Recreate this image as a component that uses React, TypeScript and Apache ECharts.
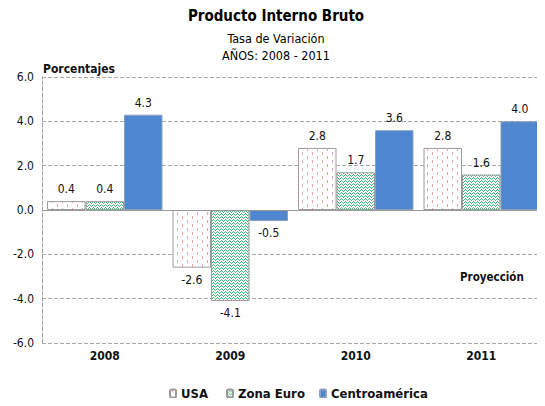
import React, { useEffect, useRef } from "react";
import * as echarts from "echarts";

const categories = ["2008", "2009", "2010", "2011"];
const usa = [0.4, -2.6, 2.8, 2.8];
const zonaEuro = [0.4, -4.1, 1.7, 1.6];
const centroamerica = [4.3, -0.5, 3.6, 4.0];
const seriesNames = ["USA", "Zona Euro", "Centroamérica"];

const FONT = "'DejaVu Sans Condensed', 'DejaVu Sans', sans-serif";

function makeUsaPattern(): HTMLCanvasElement {
  const c = document.createElement("canvas");
  c.width = 10;
  c.height = 8;
  const ctx = c.getContext("2d")!;
  ctx.fillStyle = "#ffffff";
  ctx.fillRect(0, 0, 10, 8);
  ctx.fillStyle = "#f7a0a0";
  ctx.fillRect(2, 0, 1, 3);
  ctx.fillRect(7, 4, 1, 3);
  return c;
}

function makeEuroPattern(): HTMLCanvasElement {
  const c = document.createElement("canvas");
  c.width = 4;
  c.height = 3;
  const ctx = c.getContext("2d")!;
  ctx.fillStyle = "#ffffff";
  ctx.fillRect(0, 0, 4, 3);
  ctx.fillStyle = "#3fbf77";
  ctx.fillRect(0, 1, 1, 1);
  ctx.fillRect(1, 0, 1, 1);
  ctx.fillRect(2, 1, 1, 1);
  ctx.fillRect(3, 2, 1, 1);
  return c;
}

export default function App() {
  const ref = useRef<HTMLDivElement>(null);
  useEffect(() => {
    if (!ref.current) return;
    const chart = echarts.init(ref.current, null, { renderer: "svg" });
    const usaPat = makeUsaPattern();
    const euroPat = makeEuroPattern();
    const labelStyle = {
      show: true,
      fontFamily: FONT,
      fontSize: 12,
      color: "#111",
      distance: 6,
      formatter: (p: any) => Number(p.value).toFixed(1),
    };
    const mkData = (arr: number[]) =>
      arr.map((v) => ({ value: v, label: { position: v < 0 ? "bottom" : "top" } }));
    const border = { borderColor: "#9a9a9a", borderWidth: 1 };
    const legendText = {
      fontFamily: FONT,
      fontSize: 13,
      fontWeight: "bold",
      color: "#111",
    };
    const legendAt = (name: string, left: number) => ({
      top: 387,
      left,
      padding: 0,
      itemWidth: 6,
      itemHeight: 8,
      textStyle: legendText,
      data: [name],
    });
    chart.setOption({
      animation: false,
      grid: { left: 42, right: 1, top: 77, bottom: 63 },
      legend: [
        legendAt(seriesNames[0], 169),
        legendAt(seriesNames[1], 226),
        legendAt(seriesNames[2], 319),
      ],
      xAxis: {
        type: "category",
        data: categories,
        axisLine: { show: false },
        axisTick: { show: false },
        axisLabel: { fontFamily: FONT, fontSize: 12, fontWeight: "bold", color: "#111", margin: 7 },
      },
      yAxis: {
        type: "value",
        min: -6,
        max: 6,
        interval: 2,
        axisLine: { show: true, lineStyle: { color: "#a0a0a0", type: "dashed" } },
        axisTick: { show: false },
        axisLabel: {
          fontFamily: FONT,
          fontSize: 12,
          color: "#111",
          margin: 8,
          formatter: (v: number) => v.toFixed(1),
        },
        splitLine: { show: true, lineStyle: { color: "#a8a8a8", type: "dashed" } },
      },
      graphic: [
        {
          type: "text",
          style: {
            text: "Producto Interno Bruto",
            x: 276,
            y: 16,
            textAlign: "center",
            textVerticalAlign: "middle",
            font: `bold 15px ${FONT}`,
            fill: "#000",
          },
        },
        {
          type: "text",
          style: {
            text: "Tasa de Variación",
            x: 276,
            y: 38,
            textAlign: "center",
            textVerticalAlign: "middle",
            font: `12.5px ${FONT}`,
            fill: "#000",
          },
        },
        {
          type: "text",
          style: {
            text: "AÑOS: 2008 - 2011",
            x: 276,
            y: 55,
            textAlign: "center",
            textVerticalAlign: "middle",
            font: `12.5px ${FONT}`,
            fill: "#000",
          },
        },
        {
          type: "text",
          style: {
            text: "Porcentajes",
            x: 43,
            y: 69,
            textVerticalAlign: "middle",
            font: `bold 12px ${FONT}`,
            fill: "#111",
          },
        },
        {
          type: "text",
          style: {
            text: "Proyección",
            x: 460,
            y: 277,
            textVerticalAlign: "middle",
            font: `bold 11.5px ${FONT}`,
            fill: "#111",
          },
        },
      ],
      series: [
        {
          name: seriesNames[0],
          type: "bar",
          barGap: "0%",
          barCategoryGap: "8%",
          data: mkData(usa),
          itemStyle: {
            color: { image: usaPat, repeat: "repeat", imageWidth: 10, imageHeight: 8 },
            ...border,
          },
          label: labelStyle,
          markLine: {
            silent: true,
            symbol: "none",
            label: { show: false },
            lineStyle: { color: "#9a9a9a", type: "solid", width: 1 },
            data: [{ yAxis: 0 }],
          },
        },
        {
          name: seriesNames[1],
          type: "bar",
          barGap: "0%",
          barCategoryGap: "8%",
          data: mkData(zonaEuro),
          itemStyle: {
            color: { image: euroPat, repeat: "repeat", imageWidth: 4, imageHeight: 3 },
            ...border,
          },
          label: labelStyle,
        },
        {
          name: seriesNames[2],
          type: "bar",
          barGap: "0%",
          barCategoryGap: "8%",
          data: mkData(centroamerica),
          itemStyle: { color: "#4f86d0", borderColor: "#8a9fb8", borderWidth: 1 },
          label: labelStyle,
        },
      ],
    });
    return () => chart.dispose();
  }, []);
  return <div ref={ref} style={{ width: 545, height: 406, margin: -8 }} />;
}
